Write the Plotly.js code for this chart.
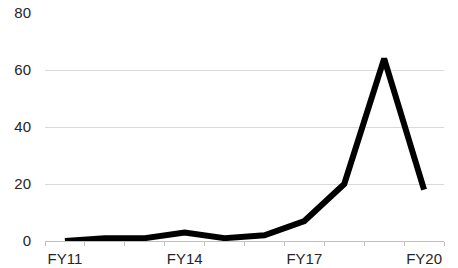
<!DOCTYPE html>
<html>
<head>
<meta charset="utf-8">
<script src="https://cdn.plot.ly/plotly-3.0.1.min.js"></script>
<style>html,body{margin:0;padding:0;background:#fff;}#chart{width:458px;height:268px;}</style>
</head>
<body>
<div id="chart"></div>
<script>
var categories = ["FY11","FY12","FY13","FY14","FY15","FY16","FY17","FY18","FY19","FY20"];
var values = [0, 1, 1, 3, 1, 2, 7, 20, 64, 18];
var shownLabels = ["FY11","FY14","FY17","FY20"];
var yTicks = [0, 20, 40, 60, 80];

var tickText = categories.map(function(c){ return shownLabels.indexOf(c) >= 0 ? c : ""; });

Plotly.newPlot("chart", [{
  x: categories,
  y: values,
  type: "scatter",
  mode: "lines",
  line: {color: "#000000", width: 6},
  hoverinfo: "none"
}], {
  width: 458, height: 268,
  margin: {l: 45, r: 14, t: 13, b: 27},
  paper_bgcolor: "#ffffff",
  plot_bgcolor: "#ffffff",
  showlegend: false,
  font: {family: "Liberation Sans, Arial, sans-serif", size: 15, color: "#262626"},
  xaxis: {
    type: "category",
    tickvals: categories,
    ticktext: tickText,
    tickson: "boundaries",
    tickangle: 0,
    ticks: "outside",
    ticklen: 4,
    tickcolor: "#bfbfbf",
    tickwidth: 1,
    ticklabelstandoff: 4,
    showline: true,
    linecolor: "#bfbfbf",
    linewidth: 1,
    showgrid: false,
    zeroline: false,
    range: [-0.5, 9.5],
    tickfont: {size: 15, color: "#262626"}
  },
  yaxis: {
    range: [0, 80],
    tickvals: yTicks,
    showgrid: true,
    gridcolor: "#d9d9d9",
    gridwidth: 1,
    zeroline: false,
    showline: false,
    ticks: "",
    ticklabelstandoff: 13,
    tickfont: {size: 15, color: "#262626"}
  }
}, {staticPlot: true});
</script>
</body>
</html>
